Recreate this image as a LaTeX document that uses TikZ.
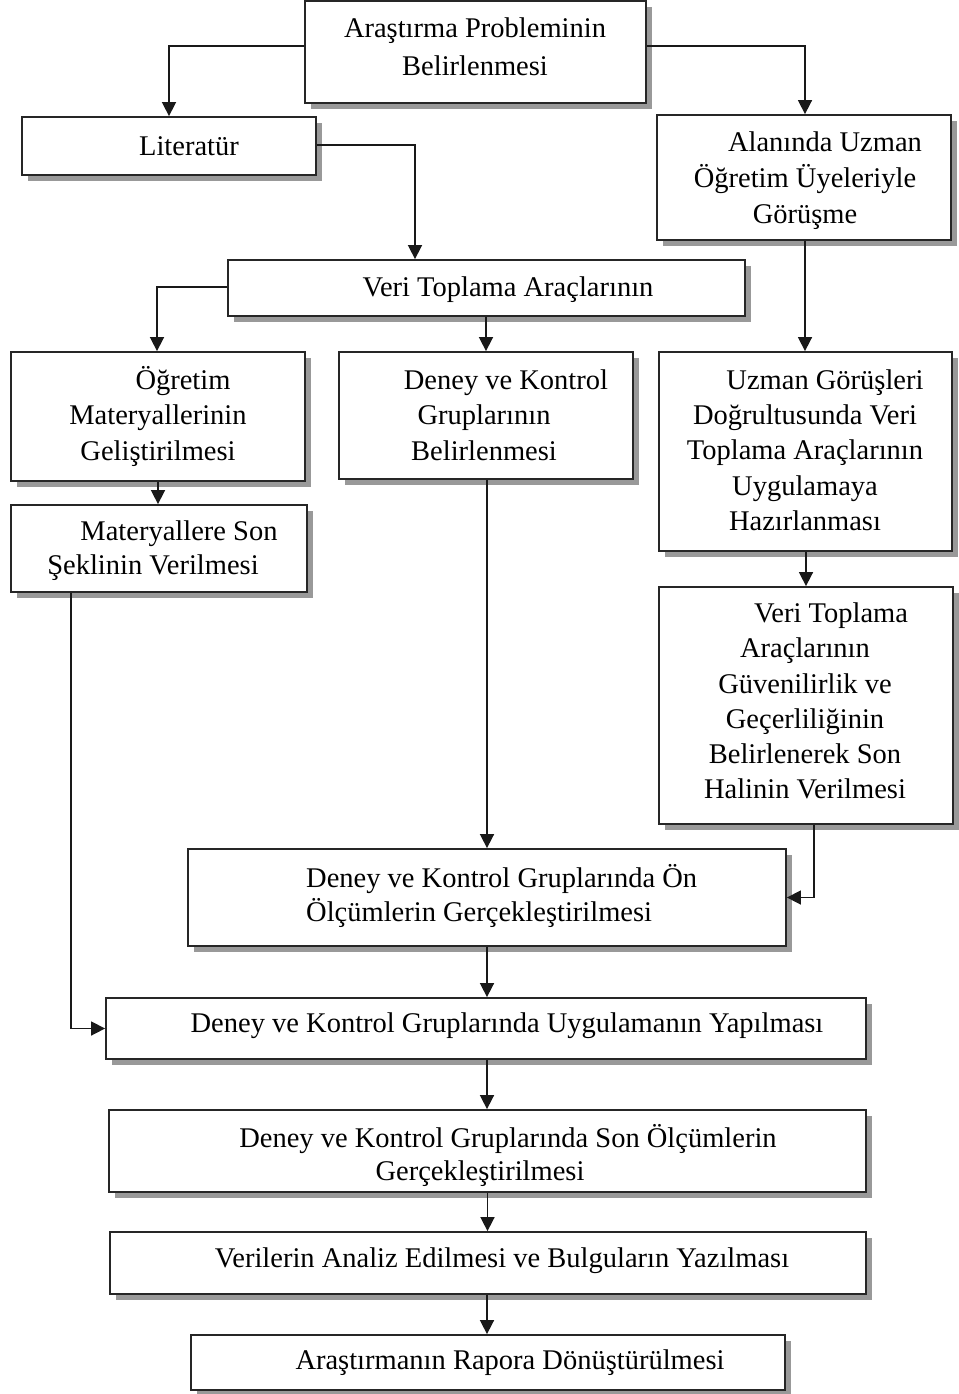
\documentclass[tikz,border=0pt]{standalone}
\usepackage{fontspec}
\setmainfont{Liberation Serif}
\usetikzlibrary{arrows.meta,shadows}
\begin{document}
\begin{tikzpicture}[x=1pt,y=-1pt,
  stepbox/.style={draw=black!85, line width=1.8pt, fill=white, inner sep=0pt,
    drop shadow={shadow xshift=6pt, shadow yshift=-6pt, fill=black!40, opacity=1}},
  txt/.style={font=\fontsize{28.5}{36}\selectfont, align=center, inner sep=0pt, text=black},
  link/.style={line width=1.6pt, draw=black!90, -{Triangle[width=14pt,length=14pt]}}]
\useasboundingbox (0,0) rectangle (958,1394);

% boxes
\node[stepbox, minimum width=341pt, minimum height=102pt] (b1)  at (475.5,52)   {};
\node[stepbox, minimum width=294pt, minimum height=58pt]  (b2)  at (169,146)    {};
\node[stepbox, minimum width=294pt, minimum height=125pt] (b3)  at (804,177.5)  {};
\node[stepbox, minimum width=517pt, minimum height=56pt]  (b4)  at (486.5,288)  {};
\node[stepbox, minimum width=294pt, minimum height=129pt] (b5)  at (158,416.5)  {};
\node[stepbox, minimum width=294pt, minimum height=127pt] (b6)  at (486,415.5)  {};
\node[stepbox, minimum width=293pt, minimum height=199pt] (b7)  at (805.5,451.5){};
\node[stepbox, minimum width=296pt, minimum height=87pt]  (b8)  at (159,548.5)  {};
\node[stepbox, minimum width=294pt, minimum height=237pt] (b9)  at (806,705.5)  {};
\node[stepbox, minimum width=598pt, minimum height=97pt]  (b10) at (487,897.5)  {};
\node[stepbox, minimum width=760pt, minimum height=61pt]  (b11) at (486,1028.5) {};
\node[stepbox, minimum width=757pt, minimum height=82pt]  (b12) at (487.5,1151) {};
\node[stepbox, minimum width=756pt, minimum height=62pt]  (b13) at (488,1263)   {};
\node[stepbox, minimum width=594pt, minimum height=55pt]  (b14) at (488,1362.5) {};

% texts
\node[txt, font=\fontsize{28.5}{38}\selectfont] (t1) at (475,47) {Araştırma Probleminin\\Belirlenmesi};
\node[txt] (t2) at (189,146) {Literatür};
\node[txt] (t3) at (805,181) {\hspace*{40pt}Alanında Uzman\\Öğretim Üyeleriyle\\Görüşme};
\node[txt] (t4) at (508,290) {Veri Toplama Araçlarının};
\node[txt, font=\fontsize{28.5}{35.5}\selectfont] (t5) at (158,416) {\hspace*{50pt}Öğretim\\Materyallerinin\\Geliştirilmesi};
\node[txt, font=\fontsize{28.5}{35.5}\selectfont] (t6) at (484,415) {\hspace*{44pt}Deney ve Kontrol\\Gruplarının\\Belirlenmesi};
\node[txt, font=\fontsize{28.5}{35.3}\selectfont] (t7) at (805,450) {\hspace*{40pt}Uzman Görüşleri\\Doğrultusunda Veri\\Toplama Araçlarının\\Uygulamaya\\Hazırlanması};
\node[txt, font=\fontsize{28.5}{34}\selectfont] (t8) at (153,551) {\hspace*{52pt}Materyallere Son\\Şeklinin Verilmesi};
\node[txt, font=\fontsize{28.5}{35.2}\selectfont] (t9) at (805,701) {\hspace*{52pt}Veri Toplama\\Araçlarının\\Güvenilirlik ve\\Geçerliliğinin\\Belirlenerek Son\\Halinin Verilmesi};
\node[txt, align=left, anchor=west, font=\fontsize{28.5}{34}\selectfont] (t10) at (306,896) {Deney ve Kontrol Gruplarında Ön\\Ölçümlerin Gerçekleştirilmesi};
\node[txt] (t11) at (507,1026) {Deney ve Kontrol Gruplarında Uygulamanın Yapılması};
\node[txt, font=\fontsize{28.5}{33}\selectfont] (t12) at (480,1155) {\hspace*{56pt}Deney ve Kontrol Gruplarında Son Ölçümlerin\\Gerçekleştirilmesi};
\node[txt] (t13) at (502,1261) {Verilerin Analiz Edilmesi ve Bulguların Yazılması};
\node[txt] (t14) at (510,1363) {Araştırmanın Rapora Dönüştürülmesi};

% connectors
\draw[link] ([yshift=6pt]b1.west) -| (b2.north);
\draw[link] ([yshift=6pt]b1.east) -| ([xshift=1pt]b3.north);
\draw[link] ([yshift=1pt]b2.east) -| ([xshift=-71.5pt]b4.north);
\draw[link] ([yshift=1pt]b4.west) -| ([xshift=-1pt]b5.north);
\draw[link] (b6.north |- b4.south) -- (b6.north);
\draw[link] ([xshift=1pt]b3.south) -- ([xshift=1pt]b3.south |- b7.north);
\draw[link] (b5.south) -- (b5.south |- b8.north);
\draw[link] (b9.north |- b7.south) -- (b9.north);
\draw[link] ([xshift=1pt]b6.south) -- ([xshift=1pt]b6.south |- b10.north);
\draw[link] ([xshift=8pt]b9.south) |- (b10.east);
\draw[link] ([xshift=-88pt]b8.south) |- (b11.west);
\draw[link] (b10.south) -- (b10.south |- b11.north);
\draw[link] ([xshift=1pt]b11.south) -- ([xshift=1pt]b11.south |- b12.north);
\draw[link] (b12.south) -- (b12.south |- b13.north);
\draw[link] ([xshift=-1pt]b13.south) -- ([xshift=-1pt]b13.south |- b14.north);
\end{tikzpicture}
\end{document}
